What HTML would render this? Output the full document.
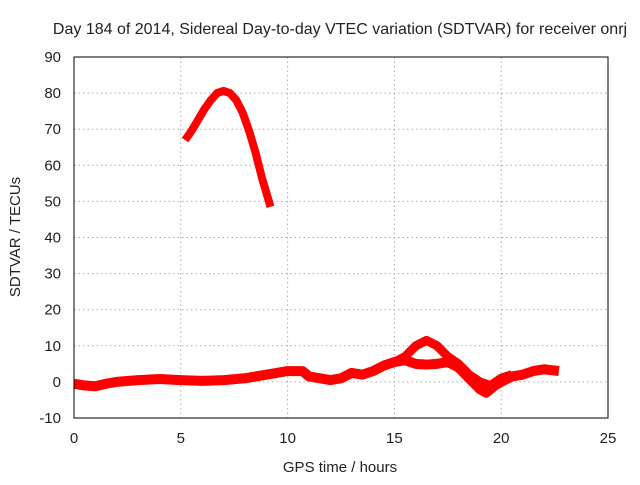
<!DOCTYPE html>
<html><head><meta charset="utf-8"><style>
body{margin:0;background:#fff}
svg text{font-family:"Liberation Sans",sans-serif;font-size:15px;fill:#222}
</style></head><body>
<svg id="c" width="640" height="480" xmlns="http://www.w3.org/2000/svg">
<rect width="640" height="480" fill="#fff"/>
<text x="340" y="34" text-anchor="middle" style="font-size:16px">Day 184 of 2014, Sidereal Day-to-day VTEC variation (SDTVAR) for receiver onrj</text>
<text x="340" y="472" text-anchor="middle">GPS time / hours</text>
<text transform="translate(20,237) rotate(-90)" text-anchor="middle">SDTVAR / TECUs</text>
<g id="grid"></g><g id="marks"></g>
<rect x="74" y="57" width="534" height="361" fill="none" stroke="#000" stroke-width="1"/>
</svg>
<script>
const xTicks=[0,5,10,15,20,25];
const yTicks=[-10,0,10,20,30,40,50,60,70,80,90];
const lowT=[0,0.5,1,1.5,2,3,4,5,6,7,8,9,10,10.7,11,12,12.5,13,13.5,14,14.5,15,15.5,16,16.5,17,17.5,18,18.5,19,19.3,19.7,20,20.5,21,21.5,22,22.7];
const lowV=[-0.5,-1,-1.2,-0.5,0,0.5,0.8,0.5,0.3,0.5,1,2,3,3,1.5,0.5,1,2.5,2,3,4.5,5.5,6,5,4.8,5,5.5,4,1,-2,-3,-1,0,1.5,2,3,3.5,3];
const branchT=[15,15.5,16,16.5,17,17.5,18,18.5,19,19.5,20,20.5];
const branchV=[5.5,7,10,11.5,10,7,5,2,0,-1,1,2];
const arcT=[5.2,5.5,5.8,6.1,6.4,6.7,7,7.3,7.6,7.9,8.2,8.5,8.8,9.0,9.2];
const arcV=[67,69.5,72.5,75.5,78,80,80.6,80,78,74.5,69.5,63.5,56.5,52.5,48.5];
const X=t=>74+t*(534/25), Y=v=>418-(v+10)*(361/100);
const ns="http://www.w3.org/2000/svg";
const grid=document.getElementById('grid'), marks=document.getElementById('marks');
function el(tag,attrs,parent){const e=document.createElementNS(ns,tag);for(const k in attrs)e.setAttribute(k,attrs[k]);parent.appendChild(e);return e;}
xTicks.forEach(t=>{
  if(t>0&&t<25){const g=el('line',{x1:X(t),x2:X(t),y1:57,y2:418,stroke:'#aaa','stroke-dasharray':'1.5,3'},grid);
  
  }
  const tx=el('text',{x:X(t),y:443,'text-anchor':'middle'},grid);tx.textContent=t;
  
  
});
yTicks.forEach(v=>{
  if(v>-10&&v<90){const g=el('line',{x1:74,x2:608,y1:Y(v),y2:Y(v),stroke:'#aaa','stroke-dasharray':'1.5,3'},grid);
  
  }
  const tx=el('text',{x:61,y:Y(v)+5,'text-anchor':'end'},grid);tx.textContent=v;
  
  
});
function series(T,V,name,w){
  const p=el('polyline',{points:T.map((t,i)=>X(t)+','+Y(V[i])).join(' '),fill:'none',stroke:'#f00','stroke-width':w,'stroke-linejoin':'round'},marks);
  
  
}
series(lowT,lowV,'sdtvar-main-trace',10);
series(branchT,branchV,'sdtvar-branch-trace',9);
series(arcT,arcV,'sdtvar-arc-trace',8);
</script>
</body></html>
